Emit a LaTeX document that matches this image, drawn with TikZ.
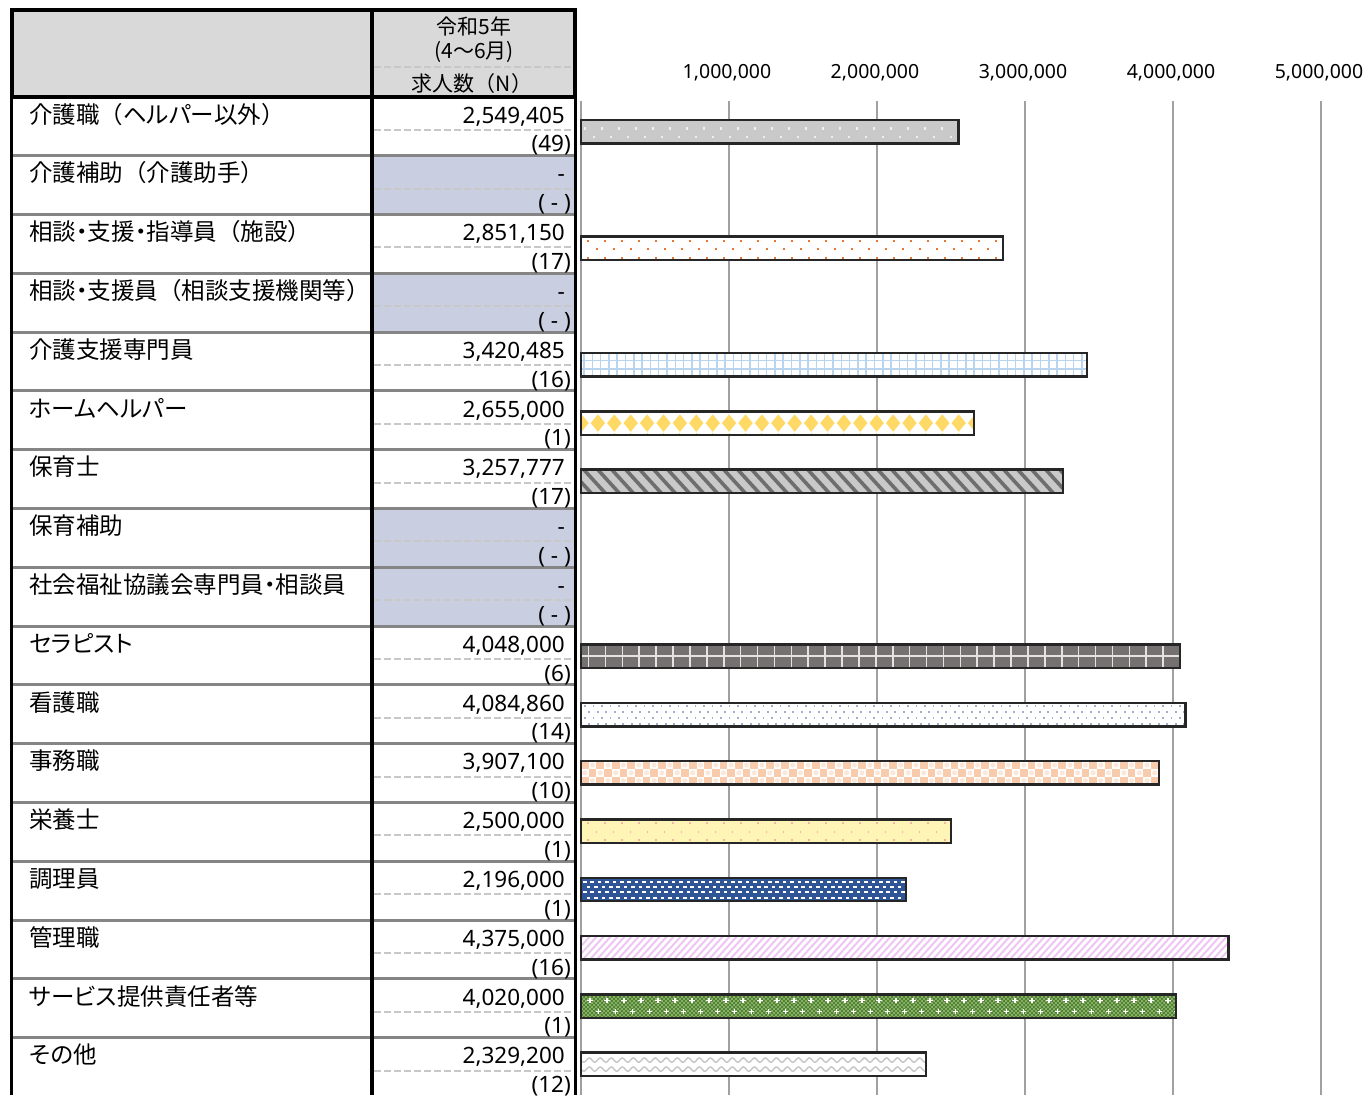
\documentclass[tikz,border=0pt]{standalone}
\usepackage{fontspec}
\setmainfont{Noto Sans CJK JP}
\newfontfamily\jpprop[RawFeature={+palt}]{Noto Sans CJK JP}
\newfontfamily\jpfull{Noto Sans CJK JP}
\newfontfamily\numfont{Noto Sans}
\newcommand{\jlp}{{\jpfull （}}
\newcommand{\jrp}{{\jpfull ）}}
\definecolor{hdr}{HTML}{D9D9D9}
\definecolor{nodata}{HTML}{C9CFE1}
\definecolor{sep}{HTML}{858585}
\definecolor{dsh}{HTML}{C8C8C8}
\definecolor{gridc}{HTML}{A0A0A0}
\definecolor{barline}{HTML}{262626}
\definecolor{cA}{HTML}{C9C9C9}
\definecolor{cB}{HTML}{E8772E}
\definecolor{cC}{HTML}{B9D4EF}
\definecolor{cD}{HTML}{FFD966}
\definecolor{cE}{HTML}{6E6E6E}
\definecolor{cF}{HTML}{767171}
\definecolor{cG}{HTML}{A3AECB}
\definecolor{cH}{HTML}{F8CBAD}
\definecolor{cI}{HTML}{FDF4B6}
\definecolor{cIdot}{HTML}{F2B4A4}
\definecolor{cJ}{HTML}{2F5597}
\definecolor{cK}{HTML}{EFC6F3}
\definecolor{cL}{HTML}{84B166}
\definecolor{cLd}{HTML}{548235}
\definecolor{cM}{HTML}{C6C6C6}
\tikzset{
  lab/.style={anchor=base west, font=\jpprop\fontsize{23.5}{25}\selectfont, inner sep=0pt},
  val/.style={anchor=base east, font=\numfont\fontsize{22.5}{24}\selectfont, inner sep=0pt},
  hdrtxt/.style={anchor=base, font=\fontsize{21}{22}\selectfont, inner sep=0pt},
  axl/.style={anchor=base, font=\numfont\fontsize{19.5}{21}\selectfont, inner sep=0pt},
  barbox/.style={draw=barline, line width=2.4pt},
  rowsep/.style={draw=sep, line width=3pt},
  cellrule/.style={draw=dsh, line width=2pt, dash pattern=on 7pt off 3pt},
  thickrule/.style={draw=black, line width=3.8pt},
  gridline/.style={draw=gridc, line width=1.8pt},
}
\newcommand{\chartbar}[3]{%
  \pgfmathsetmacro{\bt}{119.8+58.3*#1}%
  \pgfmathsetmacro{\bb}{\bt+23.5}%
  \pgfmathsetmacro{\be}{581+148*#2}%
  \begin{scope}
    \clip (581,\bt) rectangle (\be,\bb);
    #3
  \end{scope}
  \draw[barbox] (581,\bt) rectangle (\be,\bb);
}
\begin{document}
\begin{tikzpicture}[x=1pt,y=-1pt]
\useasboundingbox (0,0) rectangle (1372,1095);
\fill[white] (0,0) rectangle (1372,1095);

% ---------- table ----------
\fill[hdr] (11,10) rectangle (575,97);
\foreach \r in {2,4,8,9}
  \fill[nodata] (372,{96.8+58.8*(\r-1)}) rectangle (575,{96.8+58.8*\r});
\foreach \r in {1,...,16}
  \draw[rowsep] (12,{96.8+58.8*\r}) -- (575,{96.8+58.8*\r});
\foreach \r in {1,...,17}
  \draw[cellrule] (374,{96.8+58.8*(\r-1)+33}) -- (575,{96.8+58.8*(\r-1)+33});
\draw[cellrule] (374,67) -- (575,67);
\draw[thickrule] (11.5,10) -- (11.5,1095);
\draw[thickrule] (372.3,10) -- (372.3,1095);
\draw[draw=black, line width=3pt] (575.3,10) -- (575.3,1095);
\draw[black, line width=4pt] (11.5,10) rectangle (575.3,97);

\node[hdrtxt] (h1) at (474,34) {令和5年};
\node[hdrtxt] (h2) at (474,58) {(4～6月)};
\node[hdrtxt] (h3) at (472,91) {求人数（N）};

\foreach \r/\lab/\v/\n in {
  1/{介護職\jlp ヘルパー以外\jrp}/{2,549,405}/{(49)},
  2/{介護補助\jlp 介護助手\jrp}/{-}/{( - )},
  3/{相談・支援・指導員\jlp 施設\jrp}/{2,851,150}/{(17)},
  4/{相談・支援員\jlp 相談支援機関等\jrp}/{-}/{( - )},
  5/介護支援専門員/{3,420,485}/{(16)},
  6/ホームヘルパー/{2,655,000}/{(1)},
  7/保育士/{3,257,777}/{(17)},
  8/保育補助/{-}/{( - )},
  9/社会福祉協議会専門員・相談員/{-}/{( - )},
  10/セラピスト/{4,048,000}/{(6)},
  11/看護職/{4,084,860}/{(14)},
  12/事務職/{3,907,100}/{(10)},
  13/栄養士/{2,500,000}/{(1)},
  14/調理員/{2,196,000}/{(1)},
  15/管理職/{4,375,000}/{(16)},
  16/サービス提供責任者等/{4,020,000}/{(1)},
  17/その他/{2,329,200}/{(12)}}{
  \node[lab] (lab\r) at (29,{96.8+58.8*(\r-1)+26.2}) {\lab};
  \node[val] (val\r) at (565,{96.8+58.8*(\r-1)+26.2}) {\v};
  \node[val] (cnt\r) at (571,{96.8+58.8*(\r-1)+55}) {\n};
}

% ---------- chart ----------
\foreach \k in {0,...,5}
  \draw[gridline] ({581+148*\k},101) -- ({581+148*\k},1095);
\foreach \k/\t in {1/{1,000,000},2/{2,000,000},3/{3,000,000},4/{4,000,000},5/{5,000,000}}
  \node[axl] (ax\k) at ({579+148*\k},78) {\t};

% 1 介護職
\chartbar{0}{2.549405}{
  \fill[cA] (581,\bt) rectangle (\be,\bb);
  \foreach \k in {0,...,26}{
    \fill[white!70!cA] ({584+17*\k},{\bt+7.5}) rectangle +(2.2,2.2);
    \fill[white!70!cA] ({592.5+17*\k},{\bt+16.2}) rectangle +(2.2,2.2);
  }
}
% 3 相談・支援・指導員
\chartbar{2}{2.85115}{
  \fill[white] (581,\bt) rectangle (\be,\bb);
  \foreach \k in {0,...,26}{
    \fill[cB] ({587+17*\k},{\bt+3.5}) rectangle +(2,2);
    \fill[cB] ({595.5+17*\k},{\bt+12}) rectangle +(2,2);
    \fill[cB] ({587+17*\k},{\bt+20.5}) rectangle +(2,2);
  }
}
% 5 介護支援専門員
\chartbar{4}{3.420485}{
  \fill[white] (581,\bt) rectangle (\be,\bb);
  \foreach \k in {0,...,64}
    \draw[cC, line width=1.5pt] ({584+8.3*\k},\bt) -- ({584+8.3*\k},\bb);
  \draw[cC, line width=1.5pt] (581,{\bt+7.6}) -- (\be,{\bt+7.6});
  \draw[cC, line width=1.5pt] (581,{\bt+16}) -- (\be,{\bt+16});
}
% 6 ホームヘルパー
\chartbar{5}{2.655}{
  \fill[white] (581,\bt) rectangle (\be,\bb);
  \foreach \k in {0,...,25}{
    \fill[cD] ({581.5+16.4*\k-7.2},{\bt+11.75}) -- ({581.5+16.4*\k},{\bt+3}) -- ({581.5+16.4*\k+7.2},{\bt+11.75}) -- ({581.5+16.4*\k},{\bt+20.5}) -- cycle;
    \fill[cD] ({581+16.4*\k},\bt) rectangle +(1,2);
    \fill[cD] ({581+16.4*\k},\bb) rectangle +(1,-2);
  }
}
% 7 保育士
\chartbar{6}{3.257777}{
  \fill[cA] (581,\bt) rectangle (\be,\bb);
  \foreach \k in {-2,...,38}
    \draw[cE, line width=3.6pt] ({581+14*\k},{\bt-3}) -- ({581+14*\k+27},{\bb+3});
}
% 10 セラピスト
\chartbar{9}{4.048}{
  \fill[cF] (581,\bt) rectangle (\be,\bb);
  \foreach \k in {0,...,36}
    \draw[white!80!cF, line width=1.6pt] ({588.5+16.9*\k},\bt) -- ({588.5+16.9*\k},\bb);
  \draw[white!80!cF, line width=1.6pt] (581,{\bt+11.6}) -- (\be,{\bt+11.6});
}
% 11 看護職
\chartbar{10}{4.08486}{
  \fill[white] (581,\bt) rectangle (\be,\bb);
  \foreach \k in {0,...,72}{
    \fill[cG] ({584+8.5*\k},{\bt+2.5}) rectangle +(1.8,1.8);
    \fill[cG] ({588.2+8.5*\k},{\bt+8.5}) rectangle +(1.8,1.8);
    \fill[cG] ({584+8.5*\k},{\bt+14.5}) rectangle +(1.8,1.8);
    \fill[cG] ({588.2+8.5*\k},{\bt+20.5}) rectangle +(1.8,1.8);
  }
}
% 12 事務職
\chartbar{11}{3.9071}{
  \fill[white] (581,\bt) rectangle (\be,\bb);
  \foreach \k in {0,...,38}{
    \fill[cH] ({581+15.4*\k},\bt) rectangle +(7.7,7.83);
    \fill[cH] ({588.7+15.4*\k},{\bt+7.83}) rectangle +(7.7,7.83);
    \fill[cH] ({581+15.4*\k},{\bt+15.67}) rectangle +(7.7,7.83);
    \fill[white!55!cH] ({581+15.4*\k+3.85},{\bt+7.83+3.9}) circle [radius=2.6pt];
    \fill[white!55!cH] ({588.7+15.4*\k+3.85},{\bt+3.9}) circle [radius=2.6pt];
    \fill[white!55!cH] ({588.7+15.4*\k+3.85},{\bt+15.67+3.9}) circle [radius=2.6pt];
  }
}
% 13 栄養士
\chartbar{12}{2.5}{
  \fill[cI] (581,\bt) rectangle (\be,\bb);
  \foreach \k in {0,...,23}{
    \fill[cIdot] ({587+17*\k},{\bt+3}) rectangle +(1.8,1.8);
    \fill[cIdot] ({595.5+17*\k},{\bt+11.5}) rectangle +(1.8,1.8);
    \fill[cIdot] ({587+17*\k},{\bt+20}) rectangle +(1.8,1.8);
  }
}
% 14 調理員
\chartbar{13}{2.196}{
  \fill[cJ] (581,\bt) rectangle (\be,\bb);
  \foreach \k in {0,...,44}{
    \fill[white] ({583+7.4*\k},{\bt+3}) rectangle +(3.6,2);
    \fill[white] ({586.7+7.4*\k},{\bt+8.3}) rectangle +(3.6,2);
    \fill[white] ({583+7.4*\k},{\bt+13.6}) rectangle +(3.6,2);
    \fill[white] ({586.7+7.4*\k},{\bt+18.9}) rectangle +(3.6,2);
  }
}
% 15 管理職
\chartbar{14}{4.375}{
  \fill[white] (581,\bt) rectangle (\be,\bb);
  \foreach \k in {-5,...,95}
    \draw[cK, line width=2pt] ({581+7*\k},{\bb+2}) -- ({581+7*\k+25},{\bt-2});
}
% 16 サービス提供責任者等
\chartbar{15}{4.02}{
  \fill[cL] (581,\bt) rectangle (\be,\bb);
  \foreach \k in {0,...,150}{
    \foreach \j in {0,4,...,24}{
      \fill[cLd] ({581+4*\k},{\bt+\j}) rectangle +(2,2);
      \fill[cLd] ({583+4*\k},{\bt+\j+2}) rectangle +(2,2);
    }
  }
  \foreach \k in {0,...,36}{
    \fill[white] ({590+17*\k-2.6},{\bt+5.4}) rectangle +(5.2,1.3);
    \fill[white] ({590+17*\k-0.65},{\bt+3.5}) rectangle +(1.3,5.2);
    \fill[white] ({598.5+17*\k-2.6},{\bt+16.4}) rectangle +(5.2,1.3);
    \fill[white] ({598.5+17*\k-0.65},{\bt+14.5}) rectangle +(1.3,5.2);
  }
}
% 17 その他
\chartbar{16}{2.3292}{
  \fill[white] (581,\bt) rectangle (\be,\bb);
  \draw[cM, line width=1.4pt] plot[domain=0:350, samples=240, smooth] ({581+\x},{\bt+7.5+2.2*sin(\x*32.7)});
  \draw[cM, line width=1.4pt] plot[domain=0:350, samples=240, smooth] ({581+\x},{\bt+16.5+2.2*sin(\x*32.7)});
}
\end{tikzpicture}
\end{document}
